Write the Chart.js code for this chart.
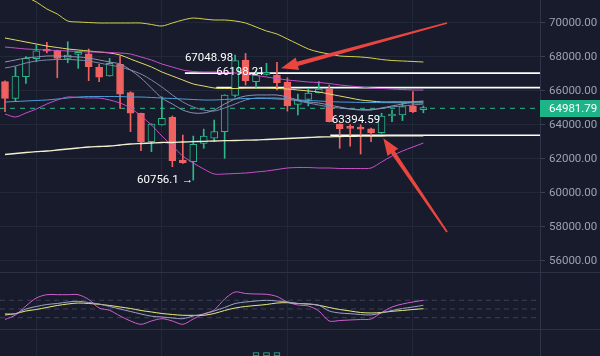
<!DOCTYPE html>
<html><head><meta charset="utf-8">
<script src="https://cdn.jsdelivr.net/npm/chart.js@4/dist/chart.umd.min.js"></script>
<style>html,body{margin:0;padding:0;background:#171b2c;overflow:hidden}</style>
</head><body>
<canvas id="c" width="600" height="356" style="display:block;width:600px;height:356px"></canvas>
<script>
// ---- data ----
const candleSlots = [0,1,2,3,4,5,6,7,8,9,10,11,12,13,14,15,16,17,18,19,20,21,22,23,24,25,26,27,28,29,30,31,32,33,34,35,36,37,38,39,40];
const opens  = [66550,65570,66840,67900,68450,68370,67920,68150,68180,67390,66880,67570,65900,64690,63020,64000,64450,61940,61840,62920,63220,63610,65740,67820,66550,66980,66940,66530,65210,65510,65900,66120,64060,63900,63880,63780,63550,64530,64590,65120,64900];
const highs  = [66600,67430,68020,68710,68870,68410,68900,68220,68470,67570,67920,68060,65960,64700,64070,65660,64530,63410,63350,63760,64290,65780,68120,68210,67240,67630,67680,66780,65820,66150,66560,66350,64070,64020,64020,63820,64690,64880,65310,65960,65120];
const lows   = [64780,65370,66450,67720,68240,66780,67660,67330,66610,66550,66870,64980,63610,62490,62430,63990,61550,61740,60756.1,62630,63020,62040,65650,66350,66160,66940,66060,64820,64590,65120,65880,64180,62630,62750,62290,63020,63510,64190,64260,64720,64720];
const closes = [65570,66880,67920,68370,68340,67920,68120,68180,67430,66810,67630,65810,64690,63020,64060,64390,61900,61770,62860,63350,63610,65760,67790,66590,66940,67040,66490,65120,65470,65880,66120,64190,63780,63800,63750,63550,64530,64630,65080,64780,64981.79];

const upperBand   = [72059,71765,71529,71235,70824,70529,70118,70059,70029,70000,70000,70000,70000,70000,69912,69824,70000,70176,70294,70235,70176,70176,70118,70000,69765,69529,69353,69059,68765,68471,68294,68176,68059,68029,68000,67941,67853,67794,67765,67735,67706];
const lowerBand   = [62265,62324,62382,62429,62471,62529,62588,62647,62706,62735,62765,62824,62882,62912,62941,62971,62971,63000,63018,63041,63059,63076,63088,63106,63118,63147,63176,63206,63235,63265,63294,63306,63324,63335,63341,63347,63353,63356,63359,63362,63365];
const upperMagenta= [68588,68529,68471,68441,68412,68382,68353,68324,68294,68294,68265,68235,68176,68000,67824,67588,67412,67235,67147,67118,67118,67088,67059,67000,66912,66824,66735,66647,66588,66529,66500,66441,66353,66294,66235,66176,66147,66118,66088,66059,66059];
const lowerMagenta= [64647,64471,64706,64941,65235,65471,65647,65618,65588,65588,65471,65294,65000,64529,64000,63353,62765,62176,61765,61412,61118,61118,61147,61176,61235,61294,61382,61471,61500,61500,61471,61471,61441,61441,61441,61471,61824,62176,62471,62706,62941];
const blueMA      = [65353,65382,65412,65441,65471,65529,65588,65647,65676,65676,65676,65676,65647,65647,65618,65588,65559,65529,65500,65471,65471,65500,65529,65559,65559,65559,65529,65500,65471,65441,65412,65382,65353,65341,65329,65324,65318,65312,65306,65300,65294];
const grayFast    = [67706,67824,67941,68000,68059,68059,68029,68000,67941,67824,67706,67588,67235,66765,66176,65588,65235,64882,64706,64706,64882,65235,65529,65706,65765,65765,65765,65647,65471,65353,65294,65176,65059,64941,64882,64882,65000,65118,65235,65353,65412];
const graySlow    = [67353,67471,67647,67765,67824,67853,67853,67824,67765,67647,67529,67412,67235,67000,66647,66235,65765,65353,65059,64882,64824,65000,65235,65471,65588,65588,65588,65529,65412,65294,65176,65059,65000,64941,64912,64912,64971,65059,65118,65176,65235];
const yellowMA    = [69118,69000,68882,68765,68647,68559,68471,68412,68353,68294,68235,68118,67882,67647,67412,67118,66882,66647,66412,66294,66176,66147,66147,66176,66176,66176,66147,66118,66059,66000,65941,65824,65706,65588,65471,65412,65353,65353,65353,65353,65353];

const kLine = [33.8,33.8,50,58.6,65.5,69,74.1,76.6,72.4,67.2,58.6,50,41.4,32.8,25.2,22.4,19,16.6,25.9,32.8,43.1,55.2,69,74.1,77.6,80,77.6,74.1,69,67.2,62.8,43.1,36.2,33.8,31,29.3,36.2,44.8,51.7,56.9,62.8];
const dLine = [29.3,33.8,43.1,48.3,55.2,62.1,67.2,70.7,69,66.2,62.1,56.9,51.7,44.8,39.7,34.5,31,28.3,28.3,28.3,34.5,44.8,53.4,58.6,62.1,65.5,70.7,71.7,69,67.2,62.8,55.2,48.3,43.1,37.9,36.2,37.9,42.1,44.8,48.3,51];
const jLine = [13.8,29.3,60.3,87.9,99.3,99.3,99.3,99.3,82.8,53.4,45.5,25.9,8.6,-2.8,8.6,16.6,8.6,-2.8,15.5,32.8,46.6,84.5,108.6,103.4,101.7,100.7,93.1,74.1,63.8,60.3,43.1,8.6,10.3,12.1,13.8,15.5,37.9,56.9,67.2,74.1,80];
const kdjLevels = [80,50,20];

const lowerPanelSlots  = [24,25,26];
const lowerPanelValues = [1.3,1.3,1.3];

const priceTicks = [56000,58000,60000,62000,64000,66000,68000,70000];
const gridSlots  = [3,15,27,39];

const levelPrices = [67048.98, 66198.21, 63394.59];
const levelStartSlots = [17.2, 20.2, 31.1];
const levelTexts = ['67048.98','66198.21','63394.59'];
const levelTextAnchors = [[17.2, 67941],[20.2, 67135],[31.25, 64294]];
const lowText = {text:'60756.1 →', slot:12.62, price:60770};
const arrowTails = [[42.26, 70000],[42.26, 57706]];
const arrowTips  = [[26.39, 67335],[36.17, 63218]];

// ---- view constants ----
const X_MIN = -0.478, X_MAX = 51.15;
const P_MIN = 50411.76, P_MAX = 71352.94;
const K_MIN = -112.1, K_MAX = 1115.5;
const MAIN_FLOOR = 55353, IND_FLOOR = -17.9;

const BG = '#171b2c';
const UP = '#2bb88a', DOWN = '#f0625f';
const lastClose = closes[closes.length-1];

const pts = arr => candleSlots.map(i => ({x:i, y:arr[i]}));
const isUp = i => closes[i] >= opens[i];

function line(label, arr, color, width, axis){
  return {type:'line', label, data:pts(arr), borderColor:color, borderWidth:width||1, pointRadius:0, tension:0.3, yAxisID:axis||'y', order:0};
}
function hline(y, x0, color, width, dash, axis){
  return {type:'line', data:[{x:x0,y},{x:X_MAX,y}], borderColor:color, borderWidth:width, borderDash:dash||[], pointRadius:0, yAxisID:axis||'y', order:3};
}

const datasets = [
  {type:'bar', data:candleSlots.map(i=>({x:i,y:[lows[i],highs[i]]})), backgroundColor:candleSlots.map(i=>isUp(i)?UP:DOWN), barThickness:1, grouped:false, order:2, yAxisID:'y'},
  {type:'bar', data:candleSlots.map(i=>({x:i,y:[opens[i],closes[i]]})), backgroundColor:candleSlots.map(i=>isUp(i)?BG:DOWN), borderColor:candleSlots.map(i=>isUp(i)?UP:DOWN), borderWidth:1, borderSkipped:false, barThickness:7, minBarLength:2, grouped:false, order:1, yAxisID:'y'},
  hline(lastClose, X_MIN, '#27b88c', 1, [5,5]),
  ...levelPrices.map((p,k)=>hline(p, levelStartSlots[k], '#ffffff', 1.6)),
  line('upper', upperBand, '#d8d24a'),
  line('lower', lowerBand, '#f2f0cf', 1.3),
  line('mU', upperMagenta, '#c94fc9'),
  line('mL', lowerMagenta, '#c94fc9'),
  line('blue', blueMA, '#4a9fd8'),
  line('g1', grayFast, '#8e92b4'),
  line('g2', graySlow, '#7f86a8'),
  line('ymid', yellowMA, '#e3dc6a'),
  ...kdjLevels.map(v=>hline(v, X_MIN, '#3b4057', 1, [5,4], 'yk')),
  line('K', kLine, '#9ea4c4', 1, 'yk'),
  line('D', dLine, '#ecec7a', 1, 'yk'),
  line('J', jLine, '#d25ed2', 1, 'yk'),
  {type:'bar', data:lowerPanelSlots.map((s,k)=>({x:s,y:[0,lowerPanelValues[k]]})), backgroundColor:BG, borderColor:UP, borderWidth:1, borderSkipped:false, barThickness:6, grouped:false, yAxisID:'yh', order:1}
];

function drawArrow(ctx, x0, y0, x1, y1){
  const a = Math.atan2(y1-y0, x1-x0);
  const L = 17, W = 6.5, w0 = 0.9, w1 = 2.2;
  const nx = Math.sin(a), ny = -Math.cos(a);
  const bx = x1 - L*Math.cos(a), by = y1 - L*Math.sin(a);
  ctx.fillStyle = '#e8463e';
  ctx.beginPath();
  ctx.moveTo(x0 + nx*w0, y0 + ny*w0);
  ctx.lineTo(bx + nx*w1, by + ny*w1);
  ctx.lineTo(bx + nx*W, by + ny*W);
  ctx.lineTo(x1, y1);
  ctx.lineTo(bx - nx*W, by - ny*W);
  ctx.lineTo(bx - nx*w1, by - ny*w1);
  ctx.lineTo(x0 - nx*w0, y0 - ny*w0);
  ctx.closePath(); ctx.fill();
}

const overlay = {
  id:'overlay',
  beforeDatasetsDraw(chart){
    const {ctx} = chart, y = chart.scales.y, yk = chart.scales.yk;
    ctx.save();
    ctx.strokeStyle = '#2c3246'; ctx.lineWidth = 1;
    [Math.round(y.getPixelForValue(MAIN_FLOOR))+0.5, Math.round(yk.getPixelForValue(IND_FLOOR))+0.5].forEach(py=>{
      ctx.beginPath(); ctx.moveTo(0,py); ctx.lineTo(chart.width,py); ctx.stroke();
    });
    ctx.restore();
  },
  afterDatasetsDraw(chart){
    const {ctx, chartArea} = chart, x = chart.scales.x, y = chart.scales.y;
    ctx.save();
    ctx.font = '11.5px Roboto';
    ctx.fillStyle = '#ffffff';
    ctx.textBaseline = 'middle'; ctx.textAlign = 'left';
    levelTexts.forEach((t,k)=>{
      ctx.fillText(t, x.getPixelForValue(levelTextAnchors[k][0]), y.getPixelForValue(levelTextAnchors[k][1]));
    });
    ctx.fillText(lowText.text, x.getPixelForValue(lowText.slot), y.getPixelForValue(lowText.price));
    arrowTails.forEach((t,k)=>{
      drawArrow(ctx, x.getPixelForValue(t[0]), y.getPixelForValue(t[1]), x.getPixelForValue(arrowTips[k][0]), y.getPixelForValue(arrowTips[k][1]));
    });
    const py = y.getPixelForValue(lastClose);
    ctx.fillStyle = '#1db488';
    ctx.fillRect(chartArea.right, Math.round(py-8.5), chart.width-chartArea.right, 17);
    ctx.fillStyle = '#ffffff';
    ctx.font = '11.5px Roboto';
    ctx.fillText(lastClose.toFixed(2), chartArea.right+9, py+0.5);
    ctx.restore();
  }
};

Chart.defaults.font.family = 'Roboto';
new Chart(document.getElementById('c'), {
  type:'bar',
  data:{datasets},
  options:{
    responsive:false, animation:false, devicePixelRatio:1,
    layout:{padding:0},
    plugins:{legend:{display:false}, tooltip:{enabled:false}},
    scales:{
      x:{type:'linear', min:X_MIN, max:X_MAX, offset:false,
        afterBuildTicks(s){ s.ticks = gridSlots.map(v=>({value:v})); },
        afterFit(s){ s.height = 0; s.paddingLeft = 0; s.paddingRight = 0; },
        ticks:{display:false}, grid:{color:'#232839', drawTicks:false, offset:false}, border:{display:false}},
      y:{position:'right', min:P_MIN, max:P_MAX,
        afterBuildTicks(s){ s.ticks = priceTicks.map(v=>({value:v})); },
        afterFit(s){ s.width = 60; s.paddingTop = 0; s.paddingBottom = 0; },
        ticks:{color:'#9ca1b3', font:{size:11.5}, padding:4, callback:v=>Number(v).toFixed(2)},
        grid:{color:'#232839', tickLength:5, tickColor:'#3a3f52'},
        border:{display:true, color:'#2f3448'}},
      yk:{display:false, min:K_MIN, max:K_MAX},
      yh:{display:false, min:0, max:140}
    }
  },
  plugins:[overlay]
});
</script>
</body></html>
